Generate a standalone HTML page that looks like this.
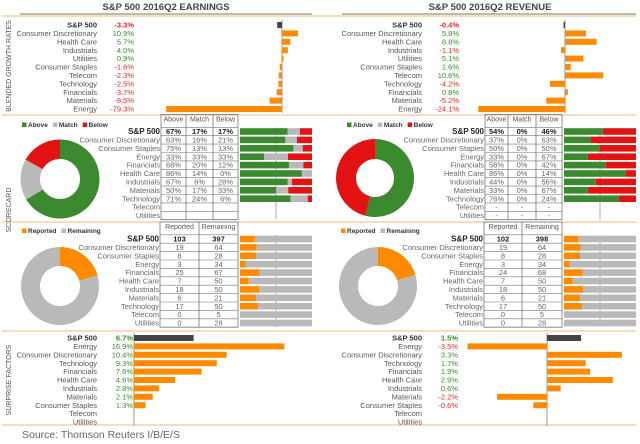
<!DOCTYPE html>
<html><head><meta charset="utf-8"><style>
html,body{margin:0;padding:0;background:#fff;width:640px;height:444px;overflow:hidden}
svg{display:block;font-family:"Liberation Sans",sans-serif}
</style></head><body>
<svg id="c" width="640" height="444" viewBox="0 0 640 444"></svg>
<script>
// ---- data ----
const growthCats=["S&P 500","Consumer Discretionary","Health Care","Industrials","Utilities","Consumer Staples","Telecom","Technology","Financials","Materials","Energy"];
const earnGrowth=[-3.3,10.9,5.7,4.0,0.9,-1.6,-2.3,-2.5,-3.7,-8.5,-79.3];
const revCats=["S&P 500","Consumer Discretionary","Health Care","Industrials","Utilities","Consumer Staples","Telecom","Technology","Financials","Materials","Energy"];
const revGrowth=[-0.4,5.8,8.8,-1.1,5.1,1.6,10.6,-4.2,0.8,-5.2,-24.1];
const scoreCats=["S&P 500","Consumer Discretionary","Consumer Staples","Energy","Financials","Health Care","Industrials","Materials","Technology","Telecom","Utilities"];
const eAbove=[67,63,75,33,68,86,67,50,71,null,null];
const eMatch=[17,16,13,33,20,14,6,17,24,null,null];
const eBelow=[17,21,13,33,12,0,28,33,6,null,null];
const rAbove=[54,37,50,33,58,86,44,33,76,null,null];
const rMatch=[0,0,0,0,0,0,0,0,0,null,null];
const rBelow=[46,63,50,67,42,14,56,67,24,null,null];
const eReported=[103,19,8,3,25,7,18,6,17,0,0];
const eRemaining=[397,64,28,34,67,50,50,21,50,5,28];
const rReported=[102,19,8,3,24,7,18,6,17,0,0];
const rRemaining=[398,64,28,34,68,50,50,21,50,5,28];
const surpCatsE=["S&P 500","Energy","Consumer Discretionary","Technology","Financials","Health Care","Industrials","Materials","Consumer Staples","Telecom","Utilities"];
const earnSurp=[6.7,16.9,10.4,9.3,7.6,4.6,2.8,2.1,1.3,null,null];
const revSurp=[1.5,-3.5,3.3,1.7,1.9,2.9,0.6,-2.2,-0.6,null,null];

const GREEN="#3b8a2f",GREY="#b9b9b9",RED="#e31313",ORANGE="#ff8a00",DARK="#444";
const svg=document.getElementById('c');
const NS="http://www.w3.org/2000/svg";
function mk(tag,attrs,name,txt){const e=document.createElementNS(NS,tag);for(const k in attrs)e.setAttribute(k,attrs[k]);


if(txt!=null)e.textContent=txt;svg.appendChild(e);return e;}
function line(x1,y1,x2,y2,col,w,name){return mk('line',{x1,y1,x2,y2,stroke:col,'stroke-width':w},name);}
function text(x,y,s,opt,name){const a={x,y,'font-size':opt.size||7.5,fill:opt.fill||'#555','text-anchor':opt.anchor||'end','font-weight':opt.bold?'bold':'normal'};if(opt.tr)a.transform=opt.tr;return mk('text',a,name,s);}

// titles & separators
text(166,10,"S&P 500 2016Q2 EARNINGS",{size:9.5,bold:true,anchor:'middle',fill:'#444'},'earnings-title');
text(490,10,"S&P 500 2016Q2 REVENUE",{size:9.5,bold:true,anchor:'middle',fill:'#444'},'revenue-title');
line(20,14,312,14,'#777',1,'earnings-title-rule');line(342,14,636,14,'#777',1,'revenue-title-rule');
[16,115,222,331,425].forEach((y,i)=>line(2,y,636,y,'#f6b77a',1,'section-divider-'+i));
text(0,0,"BLENDED GROWTH RATES",{size:7,anchor:'middle',fill:'#555',tr:'translate(11,66) rotate(-90)'},'blended-growth-label');
text(0,0,"SCORECARD",{size:7,anchor:'middle',fill:'#555',tr:'translate(11,210) rotate(-90)'},'scorecard-label');
text(0,0,"SURPRISE FACTORS",{size:7,anchor:'middle',fill:'#555',tr:'translate(11,380) rotate(-90)'},'surprise-factors-label');
text(22,438,"Source: Thomson Reuters I/B/E/S",{size:10.5,anchor:'start',fill:'#666'},'source-note');

const rowY=(y0,i)=>y0+i*8.4;
function growth(cats,vals,labelX,valX,zero,scale,y0,prefix){
  const yA=rowY(y0,0)-5,yB=rowY(y0,cats.length-1)+4;
  line(zero,yA,zero,yB,'#999',1,prefix+'-zero-axis');
  cats.forEach((c,i)=>{const y=rowY(y0,i);const v=vals[i];
    text(labelX,y+2.6,c,{bold:i==0,fill:i==0?'#333':'#555'},prefix+'-label');
    if(v!=null){
      text(valX,y+2.6,v.toFixed(1)+'%',{fill:v<0?'#e02a2a':'#3b8a2f',bold:i==0},prefix+'-value');
      const x=zero+Math.min(0,v)*scale,w=Math.abs(v)*scale;
      mk('rect',{x,y:y-3,width:Math.max(w,1),height:6,fill:i==0?DARK:ORANGE},prefix+'-bar');
    }});
}
growth(growthCats,earnGrowth,97,134,282,1.46,25,'earnings-growth');
growth(revCats,revGrowth,422,459,565,3.6,25,'revenue-growth');
growth(surpCatsE,earnSurp,97,133,134,8.9,338,'earnings-surprise');
growth(surpCatsE,revSurp,422,458,547,22.7,338,'revenue-surprise');

function donut(cx,cy,r,ri,vals,cols,prefix){
  const tot=vals.reduce((a,b)=>a+b,0);let a0=-Math.PI/2;
  vals.forEach((v,i)=>{if(!v)return;const a1=a0+v/tot*2*Math.PI;const lg=(a1-a0)>Math.PI?1:0;
    const p=(r1,a)=>[cx+r1*Math.cos(a),cy+r1*Math.sin(a)];
    const [x1,y1]=p(r,a0),[x2,y2]=p(r,a1),[x3,y3]=p(ri,a1),[x4,y4]=p(ri,a0);
    mk('path',{d:`M${x1},${y1}A${r},${r} 0 ${lg} 1 ${x2},${y2}L${x3},${y3}A${ri},${ri} 0 ${lg} 0 ${x4},${y4}Z`,fill:cols[i]},prefix+'-slice');
    a0=a1;});
}
function legend(x,y,items,prefix){let cx=x;items.forEach(([lab,col])=>{
  mk('rect',{x:cx,y:y-4.5,width:4.5,height:4.5,fill:col},prefix+'-legend-swatch');
  const t=text(cx+6,y,lab,{size:6.5,anchor:'start',fill:'#333',bold:true},prefix+'-legend-entry');
  let w;try{w=t.getComputedTextLength();}catch(e){w=lab.length*3.9;}
  cx+=6+w+5;});}

function table(cols,headers,colData,bars,barCols,y0,prefix,fmt,dash){
  const n=scoreCats.length,top=y0-8,hdrTop=top-9;
  mk('rect',{x:cols[0],y:hdrTop,width:cols[cols.length-1]-cols[0],height:rowY(y0,n-1)+4.2-hdrTop,fill:'none',stroke:'#777','stroke-width':0.8},prefix+'-table-frame');
  for(let k=1;k<cols.length-1;k++)line(cols[k],hdrTop,cols[k],rowY(y0,n-1)+4.2,'#777',0.8,prefix+'-col-divider');
  for(let i=0;i<=n;i++)line(cols[0],rowY(y0,i)-4.2,cols[cols.length-1],rowY(y0,i)-4.2,'#777',0.6,prefix+'-row-divider');
  headers.forEach((h,k)=>text((cols[k]+cols[k+1])/2,hdrTop+7,h,{size:7,anchor:'middle',fill:'#555'},prefix+'-header'));
  const bx=cols[cols.length-1]+2,bw=72;
  line(bx+bw/2,rowY(y0,0)-4,bx+bw/2,rowY(y0,n-1)+4,'#999',0.8,prefix+'-bar-gridline');
  scoreCats.forEach((c,i)=>{const y=rowY(y0,i);
    text(cols[0]-1,y+2.6,c,{size:i==0?8:7.5,bold:i==0,fill:i==0?'#222':'#666'},prefix+'-label');
    colData.forEach((arr,k)=>{const s=arr[i]==null?(dash?'-':''):fmt(arr[i]);if(s)text((cols[k]+cols[k+1])/2,y+2.6,s,{size:7.5,anchor:'middle',bold:i==0,fill:i==0?'#222':'#666'},prefix+'-cell');});
    const tot=bars.reduce((s,a)=>s+(a[i]||0),0);if(!tot)return;let x=bx;
    bars.forEach((a,k)=>{const w=(a[i]||0)/tot*bw;if(w>0)mk('rect',{x,y:y-3.3,width:w,height:6.6,fill:barCols[k]},prefix+'-bar-segment');x+=w;});
  });
}
const pct=v=>v+'%',num=v=>String(v);
legend(22,127,[["Above",GREEN],["Match",GREY],["Below",RED]],'earnings-score');
donut(60,179,39.5,20,[eAbove[0],eMatch[0],eBelow[0]],[GREEN,GREY,RED],'earnings-score-donut');
table([161,186,213,238],["Above","Match","Below"],[eAbove,eMatch,eBelow],[eAbove,eMatch,eBelow],[GREEN,GREY,RED],131.5,'earnings-score',pct,false);
legend(347,127,[["Above",GREEN],["Match",GREY],["Below",RED]],'revenue-score');
donut(375,178,39,19,[rAbove[0],rMatch[0],rBelow[0]],[GREEN,GREY,RED],'revenue-score-donut');
table([485,508,536,562],["Above","Match","Below"],[rAbove,rMatch,rBelow],[rAbove,rMatch,rBelow],[GREEN,GREY,RED],131.5,'revenue-score',pct,true);
legend(22,233,[["Reported",ORANGE],["Remaining",GREY]],'earnings-reported');
donut(60,286,39,20,[eReported[0],eRemaining[0]],[ORANGE,GREY],'earnings-reported-donut');
table([160,199,238],["Reported","Remaining"],[eReported,eRemaining],[eReported,eRemaining],[ORANGE,GREY],239,'earnings-reported',num,true);
legend(341,233,[["Reported",ORANGE],["Remaining",GREY]],'revenue-reported');
donut(378,286,39,20,[rReported[0],rRemaining[0]],[ORANGE,GREY],'revenue-reported-donut');
table([484,522,562],["Reported","Remaining"],[rReported,rRemaining],[rReported,rRemaining],[ORANGE,GREY],239,'revenue-reported',num,true);
</script>
</body></html>
